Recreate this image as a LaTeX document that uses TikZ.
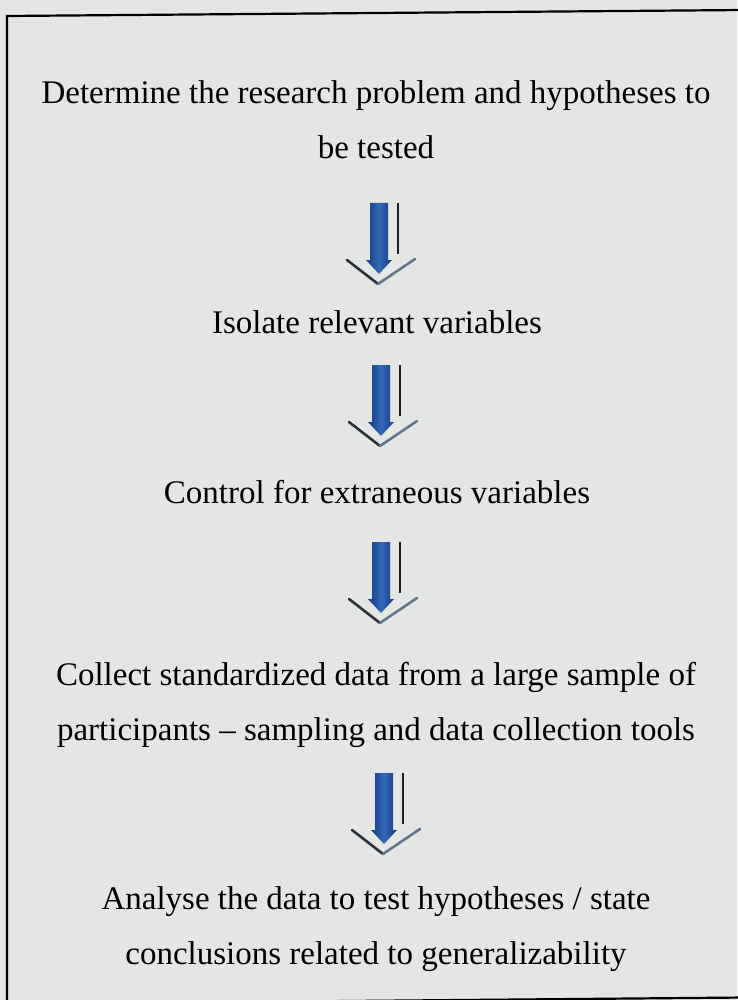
\documentclass[tikz,border=0pt]{standalone}
\usepackage{fontspec}
\setmainfont{Liberation Serif}

\definecolor{paper}{RGB}{228,229,229}
\definecolor{shaftdark}{RGB}{22,58,125}
\definecolor{shaftlight}{RGB}{52,105,185}
\definecolor{ruleink}{RGB}{30,32,36}
\definecolor{chevronleft}{RGB}{45,50,58}
\definecolor{chevronright}{RGB}{100,120,140}

\tikzset{
  steptext/.style={align=center, inner sep=0pt,
    font=\fontsize{33}{55}\selectfont},
  % block arrow with a thin rule beside it and a chevron under it;
  % origin is the top centre of the shaft
  pics/downflow/.style={code={
    \shade[left color=shaftdark, right color=shaftdark, middle color=shaftlight]
      (-9,0) -- (9,0) -- (9,57) -- (13,57) -- (0,71) -- (-13,57) -- (-9,57) -- cycle;
    \draw[line width=2.6pt, ruleink] (19,0) -- (19,51);
    \draw[line width=2.6pt, chevronleft, line cap=round] (-32,57) -- (-1,81);
    \draw[line width=2.6pt, chevronright, line cap=round] (-1,81) -- (36,56);
  }}
}

\begin{document}
\begin{tikzpicture}[x=1pt, y=-1pt]
  \fill[paper] (0,0) rectangle (737,1000);
  \useasboundingbox (0,0) rectangle (737,1000);

  % frame, running off the right and bottom edges
  \draw[line width=2.2pt, black] (745,10) -- (7,16) -- (7,1005);
  \draw[line width=2.2pt, black] (7,1004) -- (745,997.5);

  \node[steptext] (s1) at (376,120)
    {Determine the research problem and hypotheses to\\be tested};
  \node[steptext, anchor=base] (s2) at (377,333) {Isolate relevant variables};
  \node[steptext, anchor=base] (s3) at (377,503) {Control for extraneous variables};
  \node[steptext] (s4) at (376,705)
    {Collect standardized data from a large sample of\\participants -- sampling and data collection tools};
  \node[steptext] (s5) at (376,929)
    {Analyse the data to test hypotheses / state\\conclusions related to generalizability};

  \coordinate (a1) at (379,203);
  \coordinate (a2) at (381,365);
  \coordinate (a3) at (381,542);
  \coordinate (a4) at (384,773);

  \pic at (a1) {downflow};
  \pic at (a2) {downflow};
  \pic at (a3) {downflow};
  \pic at (a4) {downflow};
\end{tikzpicture}
\end{document}
